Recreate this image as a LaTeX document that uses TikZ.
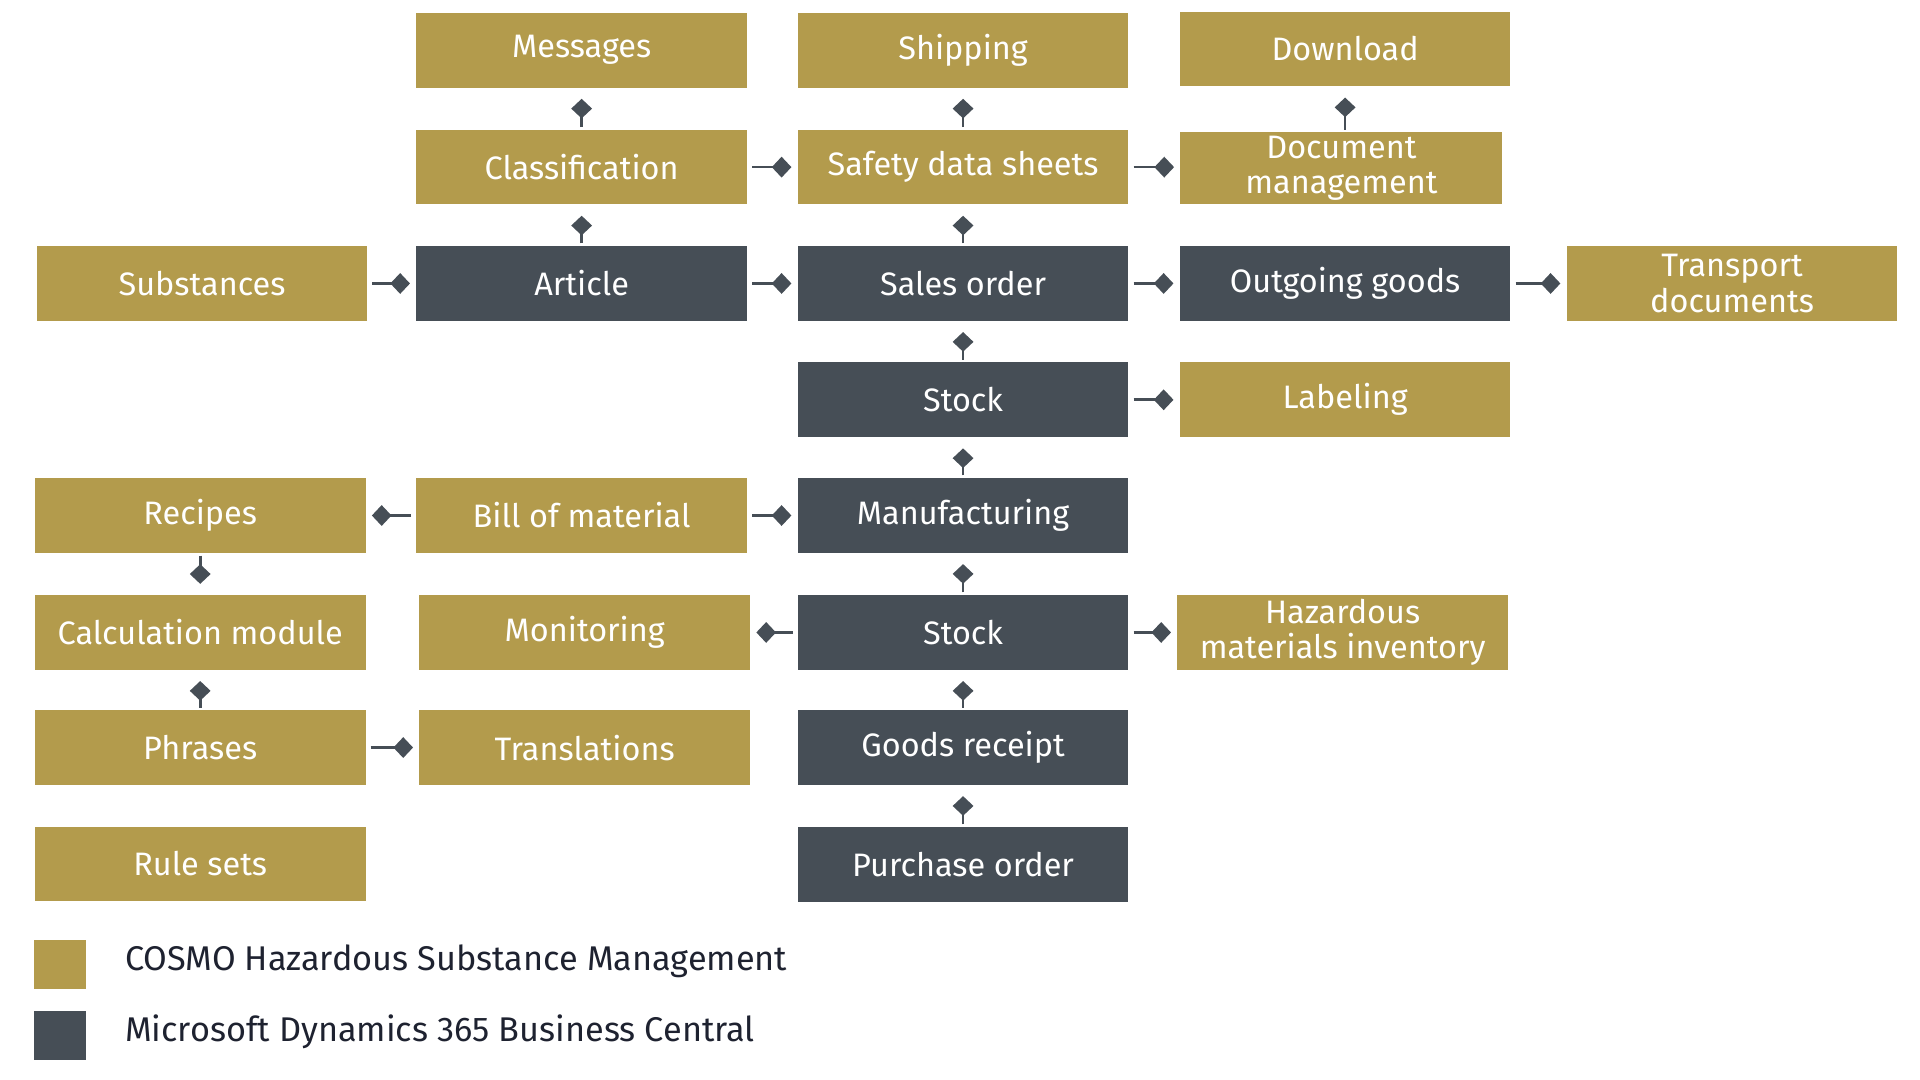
\documentclass[tikz,border=0pt]{standalone}
\usepackage{fontspec}
\setmainfont{Fira Sans}
\usetikzlibrary{arrows.meta}
\definecolor{gold}{HTML}{B39B4C}
\definecolor{slate}{HTML}{464E56}
\definecolor{ink}{HTML}{1E2230}

\tikzset{every node/.style={font=\fontsize{26.5}{29}\selectfont},
  cosmo/.style={fill=gold,text=white,minimum width=270pt,minimum height=61pt,inner sep=0pt,align=center},
  dyn/.style={cosmo,fill=slate},
  hlink/.style={draw=slate,line width=2.2pt,-{Diamond[length=16pt,width=17pt]},shorten <=4pt,shorten >=5pt},
  vlink/.style={hlink,shorten <=2pt,shorten >=9pt},
  swatch/.style={minimum width=42pt,minimum height=40pt,inner sep=0pt},
  keytext/.style={text=ink,anchor=west,inner sep=0pt,font=\fontsize{28}{32}\selectfont}}

\begin{document}
\begin{tikzpicture}[x=1pt,y=-1pt]
\useasboundingbox (0,0) rectangle (1568,882);
% top rows
\node[cosmo] (messages) at (475,41) {Messages};
\node[cosmo] (shipping) at (786.5,41) {Shipping};
\node[cosmo] (download) at (1098.5,40) {Download};
\node[cosmo] (classif) at (475,136.5) {Classification};
\node[cosmo] (sds) at (786.5,136.5) {Safety data sheets};
\node[cosmo,minimum width=263pt,minimum height=59pt] (docmgmt) at (1095.5,137.5) {Document\\management};
% sales row
\node[cosmo] (substances) at (165,231.5) {Substances};
\node[dyn] (article) at (475,231.5) {Article};
\node[dyn] (salesorder) at (786.5,231.5) {Sales order};
\node[dyn] (outgoing) at (1098.5,231.5) {Outgoing goods};
\node[cosmo] (transport) at (1414.5,231.5) {Transport\\documents};
\node[dyn] (stock) at (786.5,326.5) {Stock};
\node[cosmo] (labeling) at (1098.5,326.5) {Labeling};
% production rows
\node[cosmo] (recipes) at (163.5,421) {Recipes};
\node[cosmo] (bom) at (475,421) {Bill of material};
\node[dyn] (manufact) at (786.5,421) {Manufacturing};
\node[cosmo] (calcmod) at (163.5,516.5) {Calculation module};
\node[cosmo] (monitor) at (477.5,516.5) {Monitoring};
\node[dyn] (stocklow) at (786.5,516.5) {Stock};
\node[cosmo] (hazinv) at (1096.5,516.5) {Hazardous\\materials inventory};
\node[cosmo] (phrases) at (163.5,610.5) {Phrases};
\node[cosmo] (transl) at (477.5,610.5) {Translations};
\node[dyn] (goodsrec) at (786.5,610.5) {Goods receipt};
\node[cosmo] (rulesets) at (163.5,705.5) {Rule sets};
\node[dyn] (purchase) at (786.5,706) {Purchase order};
% connectors
\draw[vlink] (classif) -- (messages);
\draw[vlink] (sds) -- (shipping);
\draw[vlink] (docmgmt.north -| download) -- (download);
\draw[hlink] (classif) -- (sds);
\draw[hlink] (sds) -- (docmgmt.west |- sds);
\draw[vlink] (article) -- (classif);
\draw[vlink] (salesorder) -- (sds);
\draw[hlink] (substances) -- (article);
\draw[hlink] (article) -- (salesorder);
\draw[hlink] (salesorder) -- (outgoing);
\draw[hlink] (outgoing) -- (transport);
\draw[vlink] (stock) -- (salesorder);
\draw[hlink] (stock) -- (labeling);
\draw[vlink] (manufact) -- (stock);
\draw[hlink] (bom) -- (recipes);
\draw[hlink] (bom) -- (manufact);
\draw[vlink] (recipes) -- (calcmod);
\draw[vlink] (stocklow) -- (manufact);
\draw[hlink] (stocklow) -- (monitor);
\draw[hlink] (stocklow) -- (hazinv);
\draw[vlink] (phrases) -- (calcmod);
\draw[hlink] (phrases) -- (transl);
\draw[vlink] (goodsrec) -- (stocklow);
\draw[vlink] (purchase) -- (goodsrec);
% legend
\node[swatch,fill=gold] (keycosmo) at (49,788) {};
\node[swatch,fill=slate] (keydyn) at (49,846) {};
\node[keytext] (keycosmotext) at (102,785) {COSMO Hazardous Substance Management};
\node[keytext] (keydyntext) at (102,843) {Microsoft Dynamics 365 Business Central};
\end{tikzpicture}
\end{document}
